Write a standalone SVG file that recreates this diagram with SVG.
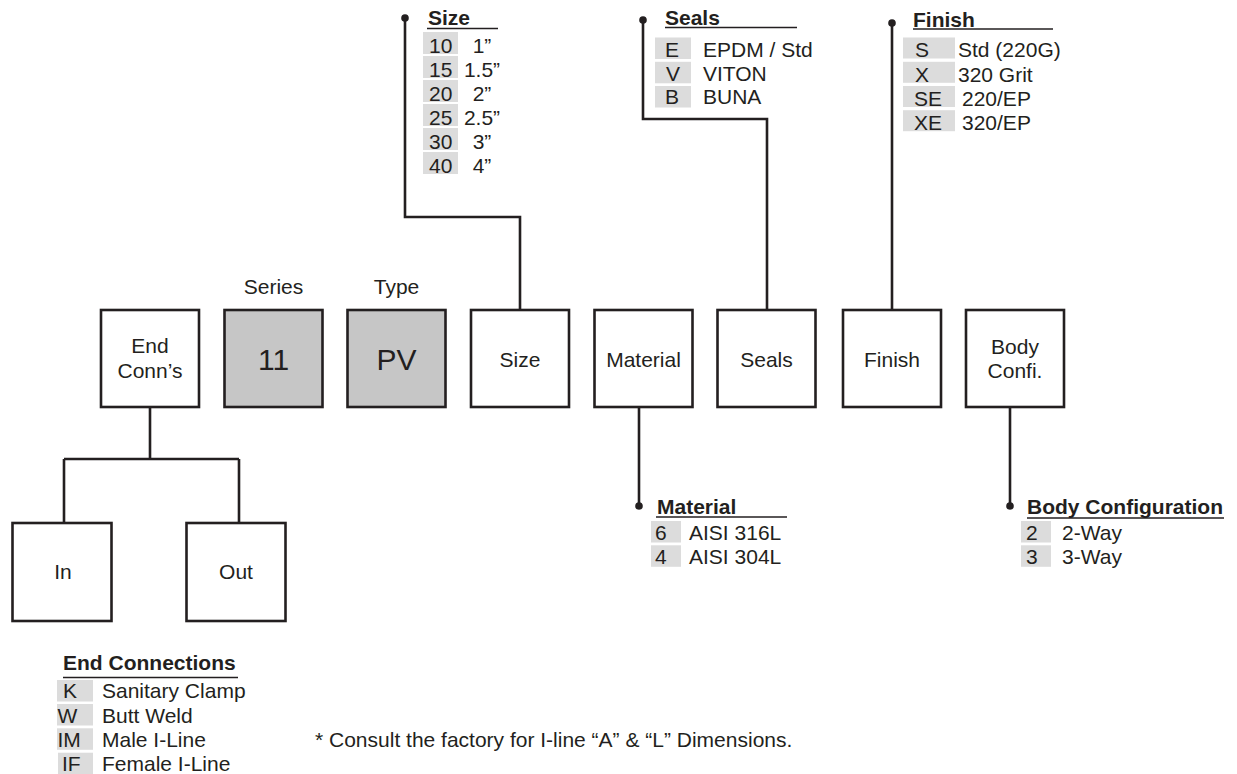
<svg xmlns="http://www.w3.org/2000/svg" width="1237" height="774" viewBox="0 0 1237 774">
<style>
text{font-family:"Liberation Sans",Arial,sans-serif;fill:#231f20;font-size:21px}
.b{font-weight:bold}
.m{text-anchor:middle}
.big{font-size:30px}
.box{fill:#fff;stroke:#231f20;stroke-width:2.6}
.gbox{fill:#c6c6c6;stroke:#231f20;stroke-width:2.6}
.code{fill:#dcdcdc}
.ln{fill:none;stroke:#231f20;stroke-width:2.6}
.ul{stroke:#231f20;stroke-width:1.6}
.dot{fill:#231f20}
</style>
<rect width="1237" height="774" fill="#fff"/>
<g id="connectors">
<path class="ln" d="M405,18 V217 H520 V310"/>
<path class="ln" d="M643,20 V119 H767 V310"/>
<path class="ln" d="M892,23 V310"/>
<path class="ln" d="M639,407 V506"/>
<path class="ln" d="M1010,407 V506"/>
<path class="ln" d="M150,407 V459 M64,459 H239 M64,459 V523 M239,459 V523"/>
<circle class="dot" cx="405" cy="18" r="3.8"/>
<circle class="dot" cx="643" cy="20" r="3.8"/>
<circle class="dot" cx="892" cy="23" r="3.8"/>
<circle class="dot" cx="639" cy="506" r="3.8"/>
<circle class="dot" cx="1010" cy="506" r="3.8"/>
</g>
<g id="node-endconn"><rect class="box" x="101" y="310" width="98" height="97"/><text class="m" x="150" y="353">End</text><text class="m" x="150" y="378">Conn’s</text></g>
<g id="node-series"><text class="m" x="273.5" y="294">Series</text><rect class="gbox" x="224.5" y="310" width="98" height="97"/><text class="m big" x="273.5" y="370">11</text></g>
<g id="node-type"><text class="m" x="396.5" y="294">Type</text><rect class="gbox" x="347.5" y="310" width="98" height="97"/><text class="m big" x="396.5" y="370">PV</text></g>
<g id="node-size"><rect class="box" x="471" y="310" width="98" height="97"/><text class="m" x="520" y="367">Size</text></g>
<g id="node-material"><rect class="box" x="594.5" y="310" width="98" height="97"/><text class="m" x="643.5" y="367">Material</text></g>
<g id="node-seals"><rect class="box" x="717.5" y="310" width="98" height="97"/><text class="m" x="766.5" y="367">Seals</text></g>
<g id="node-finish"><rect class="box" x="843" y="310" width="98" height="97"/><text class="m" x="892" y="367">Finish</text></g>
<g id="node-body"><rect class="box" x="966" y="310" width="98" height="97"/><text class="m" x="1015" y="354">Body</text><text class="m" x="1015" y="378">Confi.</text></g>
<g id="node-in"><rect class="box" x="12.5" y="523" width="99" height="98"/><text class="m" x="63" y="579">In</text></g>
<g id="node-out"><rect class="box" x="186.5" y="523" width="99" height="98"/><text class="m" x="236" y="579">Out</text></g>
<g id="legend-size">
<text class="b" x="428" y="25">Size</text><line class="ul" x1="427" y1="28.5" x2="498" y2="28.5"/>
<rect class="code" x="423" y="32" width="35" height="22"/>
<rect class="code" x="423" y="56" width="35" height="22"/>
<rect class="code" x="423" y="80" width="35" height="22"/>
<rect class="code" x="423" y="104" width="35" height="22"/>
<rect class="code" x="423" y="128" width="35" height="22"/>
<rect class="code" x="423" y="152" width="35" height="22"/>
<text x="429" y="53">10</text><text class="m" x="482" y="53">1”</text>
<text x="429" y="77">15</text><text class="m" x="482" y="77">1.5”</text>
<text x="429" y="101">20</text><text class="m" x="482" y="101">2”</text>
<text x="429" y="125">25</text><text class="m" x="482" y="125">2.5”</text>
<text x="429" y="149">30</text><text class="m" x="482" y="149">3”</text>
<text x="429" y="173">40</text><text class="m" x="482" y="173">4”</text>
</g>
<g id="legend-seals">
<text class="b" x="665" y="25">Seals</text><line class="ul" x1="665" y1="27.5" x2="797" y2="27.5"/>
<rect class="code" x="655" y="37.5" width="36" height="21.5"/>
<rect class="code" x="655" y="61.8" width="36" height="21.5"/>
<rect class="code" x="655" y="86" width="36" height="21.5"/>
<text x="665" y="56.5">E</text><text x="703" y="56.5">EPDM / Std</text>
<text x="666" y="81">V</text><text x="703" y="81">VITON</text>
<text x="665" y="104">B</text><text x="703" y="104">BUNA</text>
</g>
<g id="legend-finish">
<text class="b" x="913" y="27">Finish</text><line class="ul" x1="913" y1="29" x2="1053" y2="29"/>
<rect class="code" x="903" y="37.5" width="52" height="21"/>
<rect class="code" x="903" y="61.8" width="52" height="21"/>
<rect class="code" x="903" y="86" width="52" height="21"/>
<rect class="code" x="903" y="110.2" width="52" height="21"/>
<text x="915" y="57">S</text><text x="958" y="57">Std (220G)</text>
<text x="915" y="81.5">X</text><text x="958" y="81.5">320 Grit</text>
<text x="914" y="106">SE</text><text x="962" y="106">220/EP</text>
<text x="914" y="130">XE</text><text x="962" y="130">320/EP</text>
</g>
<g id="legend-material">
<text class="b" x="657" y="514">Material</text><line class="ul" x1="656" y1="517" x2="787" y2="517"/>
<rect class="code" x="651" y="521" width="30" height="21.5"/>
<rect class="code" x="651" y="545.3" width="30" height="21.5"/>
<text x="655" y="540">6</text><text x="689" y="540">AISI 316L</text>
<text x="655" y="564">4</text><text x="689" y="564">AISI 304L</text>
</g>
<g id="legend-body">
<text class="b" x="1027" y="514">Body Configuration</text><line class="ul" x1="1027" y1="518" x2="1224" y2="518"/>
<rect class="code" x="1021" y="521" width="30" height="21.5"/>
<rect class="code" x="1021" y="545.3" width="30" height="21.5"/>
<text x="1026" y="540">2</text><text x="1062" y="540">2-Way</text>
<text x="1026" y="564">3</text><text x="1062" y="564">3-Way</text>
</g>
<g id="legend-endconn">
<text class="b" x="63" y="670">End Connections</text><line class="ul" x1="63" y1="677.5" x2="238" y2="677.5"/>
<rect class="code" x="57" y="680" width="36" height="21.5"/>
<rect class="code" x="57" y="704" width="36" height="21.5"/>
<rect class="code" x="57" y="728.3" width="36" height="21.5"/>
<rect class="code" x="58" y="752.7" width="35" height="21.3"/>
<text x="63" y="698">K</text><text x="102" y="698">Sanitary Clamp</text>
<text x="57.5" y="722.5">W</text><text x="102" y="722.5">Butt Weld</text>
<text x="57.5" y="746.5">IM</text><text x="102" y="746.5">Male  I-Line</text>
<text x="62" y="770.5">IF</text><text x="102" y="770.5">Female I-Line</text>
</g>
<text id="footnote" x="315" y="746.5">* Consult the factory for I-line “A” &amp; “L” Dimensions.</text>
</svg>
